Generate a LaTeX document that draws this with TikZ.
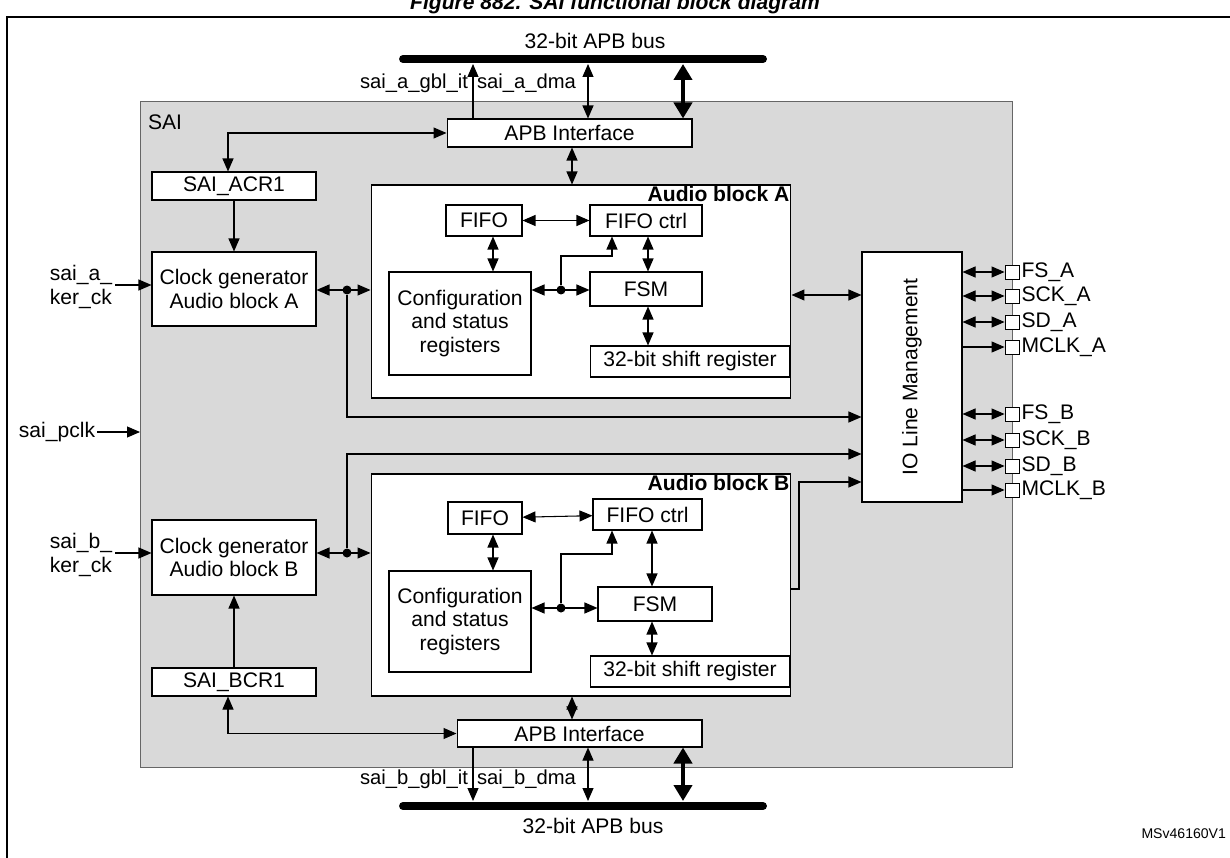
\documentclass[tikz,border=0pt]{standalone}
\usepackage{fontspec}
\setmainfont{Liberation Sans}
\usetikzlibrary{arrows.meta,positioning}

\tikzset{
  blk/.style={draw, fill=white, line width=0.6pt, inner sep=1pt, align=center},
  lbl/.style={inner sep=1pt, align=center},
  pinbox/.style={draw, fill=white, line width=0.5pt, minimum size=0.28cm, inner sep=0pt},
  jdot/.style={circle, fill, inner sep=0pt, minimum size=0.18cm},
  sig/.style={line width=0.6pt, -{Triangle[length=0.26cm,width=0.22cm]}},
  bisig/.style={line width=0.6pt, {Triangle[length=0.26cm,width=0.22cm]}-{Triangle[length=0.26cm,width=0.22cm]}},
  fatsig/.style={line width=2.4pt, {Triangle[length=0.32cm,width=0.36cm]}-{Triangle[length=0.32cm,width=0.36cm]}},
  bus/.style={line width=4.5pt, line cap=round},
}

\begin{document}
\begin{tikzpicture}[x=0.02cm, y=-0.02cm, font=\fontsize{12}{13.6}\selectfont]
  \useasboundingbox (0,0) rectangle (1230,858);
  \clip (0,0) rectangle (1230,858);

  % frame and title
  \draw[line width=0.8pt] (7,17) rectangle (1250,880);
  \node[anchor=base, font=\fontsize{12}{14}\selectfont\bfseries\itshape] (title) at (615,10) {Figure 882. SAI functional block diagram};

  % SAI area
  \draw[fill=black!15, draw=black!60, line width=0.5pt] (140,101) rectangle (1012,767);
  \node[lbl, anchor=north west] (sai) at (146,113) {SAI};

  % buses
  \coordinate (busAw) at (403,59);  \coordinate (busAe) at (763,59);
  \coordinate (busBw) at (403,806); \coordinate (busBe) at (763,806);
  \draw[bus] (busAw) -- (busAe);
  \draw[bus] (busBw) -- (busBe);
  \node[lbl] (busAlbl) at (595,41) {32-bit APB bus};
  \node[lbl] (busBlbl) at (593,826) {32-bit APB bus};

  % block A side
  \node[blk, minimum width=4.9cm, minimum height=0.56cm] (apbA) at (569.5,133) {APB Interface};
  \node[blk, minimum width=3.28cm, minimum height=0.56cm] (acrA) at (234,186) {SAI\_ACR1};
  \node[blk, minimum width=3.28cm, minimum height=1.48cm] (clkA) at (234,289) {Clock generator\\Audio block A};
  \node[blk, minimum width=8.4cm, minimum height=4.26cm] (blkA) at (581,291.5) {};
  \node[lbl, anchor=north east, font=\fontsize{12}{13.6}\selectfont\bfseries] (blkAlbl) at (blkA.north east) {Audio block A};
  \node[blk, minimum width=1.52cm, minimum height=0.62cm] (fifoA) at (484,220.5) {FIFO};
  \node[blk, minimum width=2.24cm, minimum height=0.62cm] (fctlA) at (646,220.5) {FIFO ctrl};
  \node[blk, minimum width=2.84cm, minimum height=2.06cm] (cfgA) at (460,323.5) {Configuration\\and status\\registers};
  \node[blk, minimum width=2.24cm, minimum height=0.68cm] (fsmA) at (646,289) {FSM};
  \node[blk, minimum width=4.0cm, minimum height=0.62cm] (shA) at (690,361.5) {32-bit shift register};
  \node[jdot] (dotA) at (347,290) {};
  \node[jdot] (dotcA) at (561,290) {};

  % block B side
  \node[blk, minimum width=4.9cm, minimum height=0.54cm] (apbB) at (579.5,733.5) {APB Interface};
  \node[blk, minimum width=3.28cm, minimum height=0.56cm] (bcrB) at (234,682) {SAI\_BCR1};
  \node[blk, minimum width=3.28cm, minimum height=1.5cm] (clkB) at (234,557.5) {Clock generator\\Audio block B};
  \node[blk, minimum width=8.4cm, minimum height=4.44cm] (blkB) at (581,585) {};
  \node[lbl, anchor=north east, font=\fontsize{12}{13.6}\selectfont\bfseries] (blkBlbl) at (blkB.north east) {Audio block B};
  \node[blk, minimum width=1.48cm, minimum height=0.64cm] (fifoB) at (485,518) {FIFO};
  \node[blk, minimum width=2.18cm, minimum height=0.62cm] (fctlB) at (647.5,514.5) {FIFO ctrl};
  \node[blk, minimum width=2.84cm, minimum height=2.02cm] (cfgB) at (460,621.5) {Configuration\\and status\\registers};
  \node[blk, minimum width=2.28cm, minimum height=0.68cm] (fsmB) at (655,604) {FSM};
  \node[blk, minimum width=4.0cm, minimum height=0.62cm] (shB) at (690,671.5) {32-bit shift register};
  \node[jdot] (dotB) at (347,553) {};
  \node[jdot] (dotcB) at (561,608) {};

  % IO line management and pins
  \node[blk, minimum width=2.0cm, minimum height=5.0cm] (io) at (912,377) {};
  \node[rotate=90] (iolbl) at (io) {IO Line Management};
  \node[pinbox] (fsA) at (1012,272) {};   \node[lbl, anchor=west] at (fsA.east) {FS\_A};
  \node[pinbox] (sckA) at (1012,296) {};  \node[lbl, anchor=west] at (sckA.east) {SCK\_A};
  \node[pinbox] (sdA) at (1012,322) {};   \node[lbl, anchor=west] at (sdA.east) {SD\_A};
  \node[pinbox] (mclkA) at (1012,347) {}; \node[lbl, anchor=west] at (mclkA.east) {MCLK\_A};
  \node[pinbox] (fsB) at (1012,414) {};   \node[lbl, anchor=west] at (fsB.east) {FS\_B};
  \node[pinbox] (sckB) at (1012,440) {};  \node[lbl, anchor=west] at (sckB.east) {SCK\_B};
  \node[pinbox] (sdB) at (1012,466) {};   \node[lbl, anchor=west] at (sdB.east) {SD\_B};
  \node[pinbox] (mclkB) at (1012,490) {}; \node[lbl, anchor=west] at (mclkB.east) {MCLK\_B};
  \draw[bisig] (io.east |- fsA) -- (fsA.west);
  \draw[bisig] (io.east |- sckA) -- (sckA.west);
  \draw[bisig] (io.east |- sdA) -- (sdA.west);
  \draw[sig] (io.east |- mclkA) -- (mclkA.west);
  \draw[bisig] (io.east |- fsB) -- (fsB.west);
  \draw[bisig] (io.east |- sckB) -- (sckB.west);
  \draw[bisig] (io.east |- sdB) -- (sdB.west);
  \draw[sig] (io.east |- mclkB) -- (mclkB.west);

  % external inputs
  \node[lbl, align=left] (kerA) at (81,287) {sai\_a\_\\ker\_ck};
  \node[lbl, align=left] (kerB) at (81,555) {sai\_b\_\\ker\_ck};
  \node[lbl] (pclk) at (57,432) {sai\_pclk};
  \draw[sig] (115,285) -- (clkA.west |- 0,285);
  \draw[sig] (115,553) -- (clkB.west |- 0,553);
  \draw[sig] (pclk.east) -- (140,432);

  % top bus connections
  \draw[sig] (apbA.north -| 473,0) -- (473,64);
  \draw[bisig] (apbA.north -| 588,0) -- (588,64);
  \draw[fatsig] (apbA.north -| 683,0) -- (683,64);
  \node[lbl, anchor=east, font=\fontsize{11.5}{13}\selectfont] (gblA) at (470,83) {sai\_a\_gbl\_it};
  \node[lbl, anchor=west, font=\fontsize{11.5}{13}\selectfont] (dmaA) at (475,83) {sai\_a\_dma};

  % bottom bus connections
  \draw[sig] (apbB.south -| 473,0) -- (473,801);
  \draw[bisig] (apbB.south -| 588,0) -- (588,801);
  \draw[fatsig] (apbB.south -| 683,0) -- (683,801);
  \node[lbl, anchor=east, font=\fontsize{11.5}{13}\selectfont] (gblB) at (470,779) {sai\_b\_gbl\_it};
  \node[lbl, anchor=west, font=\fontsize{11.5}{13}\selectfont] (dmaB) at (475,779) {sai\_b\_dma};

  % block A connectors
  \draw[bisig] (acrA.north -| 228,0) |- (apbA.west);
  \draw[sig] (acrA.south) -- (clkA.north);
  \draw[bisig] (apbA.south -| 572,0) -- (blkA.north -| 572,0);
  \draw[bisig] (clkA.east |- dotA) -- (blkA.west |- dotA);
  \draw[sig] (dotA) |- (io.west |- 0,417);
  \draw[bisig] (blkA.east |- 0,295) -- (io.west |- 0,295);
  \draw[bisig] (fifoA) -- (fctlA);
  \draw[bisig] (fifoA.south -| 493,0) -- (cfgA.north -| 493,0);
  \draw[bisig] (cfgA.east |- dotcA) -- (fsmA.west |- dotcA);
  \draw[sig] (dotcA) |- (612,256) -- (fctlA.south -| 612,0);
  \draw[bisig] (fctlA.south -| 648,0) -- (fsmA.north -| 648,0);
  \draw[bisig] (fsmA.south -| 648,0) -- (shA.north -| 648,0);

  % block B connectors
  \draw[bisig] (bcrB.south -| 228,0) |- (apbB.west);
  \draw[sig] (bcrB.north) -- (clkB.south);
  \draw[bisig] (apbB.north -| 572,0) -- (blkB.south -| 572,0);
  \draw[bisig] (clkB.east |- dotB) -- (blkB.west |- dotB);
  \draw[sig] (dotB) |- (io.west |- 0,454);
  \draw[sig] (blkB.east |- 0,589) -| (799,482) -- (io.west |- 0,482);
  \draw[bisig] (fifoB) -- (fctlB);
  \draw[bisig] (fifoB.south -| 493,0) -- (cfgB.north -| 493,0);
  \draw[bisig] (cfgB.east |- dotcB) -- (fsmB.west |- dotcB);
  \draw[sig] (dotcB) |- (612,554) -- (fctlB.south -| 612,0);
  \draw[bisig] (fctlB.south -| 652,0) -- (fsmB.north -| 652,0);
  \draw[bisig] (fsmB.south -| 652,0) -- (shB.north -| 652,0);

  % document id
  \node[lbl, anchor=east, font=\fontsize{8}{9}\selectfont] (docid) at (1228,834) {MSv46160V1};
\end{tikzpicture}
\end{document}
